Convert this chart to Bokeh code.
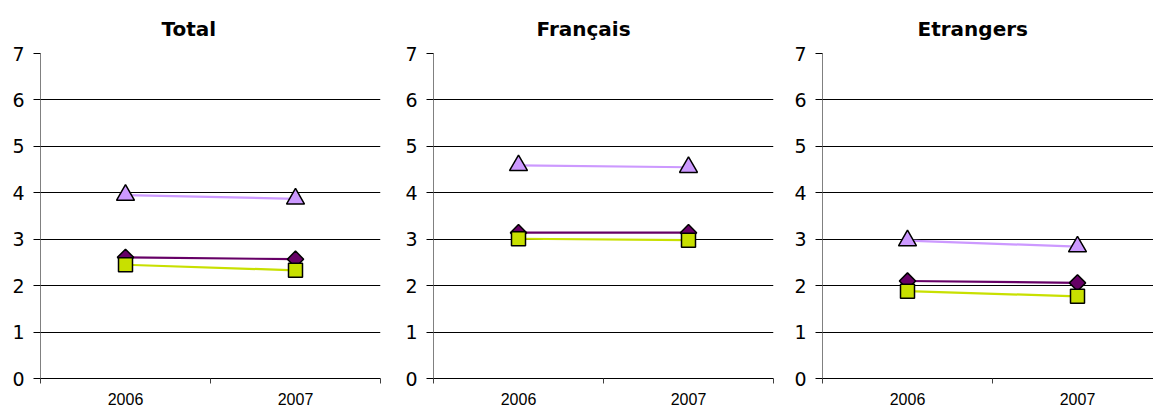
import math
from bokeh.plotting import figure
from bokeh.layouts import row
from bokeh.models import Range1d, FixedTicker
from bokeh.embed import file_html
from bokeh.resources import INLINE

# ---- data ----
years = ["2006", "2007"]
panel_titles = ["Total", "Français", "Etrangers"]

total_triangle = [3.95, 3.87]
total_diamond = [2.61, 2.57]
total_square = [2.45, 2.33]

fr_triangle = [4.59, 4.55]
fr_diamond = [3.14, 3.14]
fr_square = [3.01, 2.98]

et_triangle = [2.97, 2.84]
et_diamond = [2.10, 2.06]
et_square = [1.88, 1.77]

y_ticks = [0, 1, 2, 3, 4, 5, 6, 7]

# ---- styles ----
TRI_COLOR = "#CC99FF"
DIA_COLOR = "#660066"
SQ_COLOR = "#C8E000"

xs = [i + 0.5 for i in range(len(years))]
bounds = [float(i) for i in range(len(years) + 1)]


def make_panel(title, tri, dia, sq, left_border, right_border, frame_w, x_end, title_offset):
    p = figure(
        width=left_border + frame_w + right_border,
        height=407,
        x_range=Range1d(0, x_end),
        y_range=Range1d(0, 7),
        output_backend="svg",
        toolbar_location=None,
        min_border_left=left_border,
        min_border_right=right_border,
        min_border_top=53,
        min_border_bottom=27,
        title=title,
    )
    p.outline_line_color = None
    p.background_fill_color = "white"
    p.border_fill_color = "white"

    p.title.align = "left"
    p.title.offset = title_offset
    p.title.standoff = 26
    p.title.text_font = "DejaVu Sans"
    p.title.text_font_size = "20px"
    p.title.text_font_style = "bold"
    p.title.text_color = "black"

    # y axis
    p.yaxis.ticker = FixedTicker(ticks=y_ticks, minor_ticks=[])
    p.yaxis.axis_line_color = "#808080"
    p.yaxis.axis_line_width = 1
    p.yaxis.major_tick_line_color = "black"
    p.yaxis.major_tick_out = 7
    p.yaxis.major_tick_in = 0
    p.yaxis.minor_tick_line_color = None
    p.yaxis.major_label_standoff = 9
    p.yaxis.major_label_text_font = "DejaVu Sans"
    p.yaxis.major_label_text_font_size = "19px"
    p.yaxis.major_label_text_color = "black"

    # x axis: labels at category centres, tick marks at category boundaries
    p.xaxis.ticker = FixedTicker(ticks=xs, minor_ticks=bounds)
    p.xaxis.major_label_overrides = {x: y for x, y in zip(xs, years)}
    p.xaxis.axis_line_color = "black"
    p.xaxis.major_tick_line_color = None
    p.xaxis.major_tick_out = 0
    p.xaxis.major_tick_in = 0
    p.xaxis.minor_tick_line_color = "#404040"
    p.xaxis.minor_tick_out = 5
    p.xaxis.minor_tick_in = 0
    p.xaxis.major_label_standoff = 9
    p.xaxis.major_label_text_font = "Liberation Sans"
    p.xaxis.major_label_text_font_size = "16px"
    p.xaxis.major_label_text_color = "black"

    p.xgrid.grid_line_color = None
    p.ygrid.ticker = FixedTicker(ticks=y_ticks)
    p.ygrid.grid_line_color = "black"
    p.ygrid.grid_line_width = 1

    # lines
    p.line(xs, dia, line_color=DIA_COLOR, line_width=2.2)
    p.line(xs, sq, line_color=SQ_COLOR, line_width=2.2)
    p.line(xs, tri, line_color=TRI_COLOR, line_width=2.2)

    # markers
    p.scatter(xs, dia, marker="square", angle=math.pi / 4, size=11.5,
              fill_color=DIA_COLOR, line_color="black", line_width=1.5)
    p.scatter(xs, sq, marker="square", size=14,
              fill_color=SQ_COLOR, line_color="black", line_width=1.5)
    p.scatter(xs, tri, marker="triangle", size=18,
              fill_color=TRI_COLOR, line_color="black", line_width=1.5)
    return p


p1 = make_panel(panel_titles[0], total_triangle, total_diamond, total_square, 40, 10, 340, 2.0, 121)
p2 = make_panel(panel_titles[1], fr_triangle, fr_diamond, fr_square, 43, 10, 340, 2.0, 103)
p3 = make_panel(panel_titles[2], et_triangle, et_diamond, et_square, 39, 0, 331, 331 / 170, 95)

layout = row(p1, p2, p3)
open("out.html", "w").write(file_html(layout, INLINE))
